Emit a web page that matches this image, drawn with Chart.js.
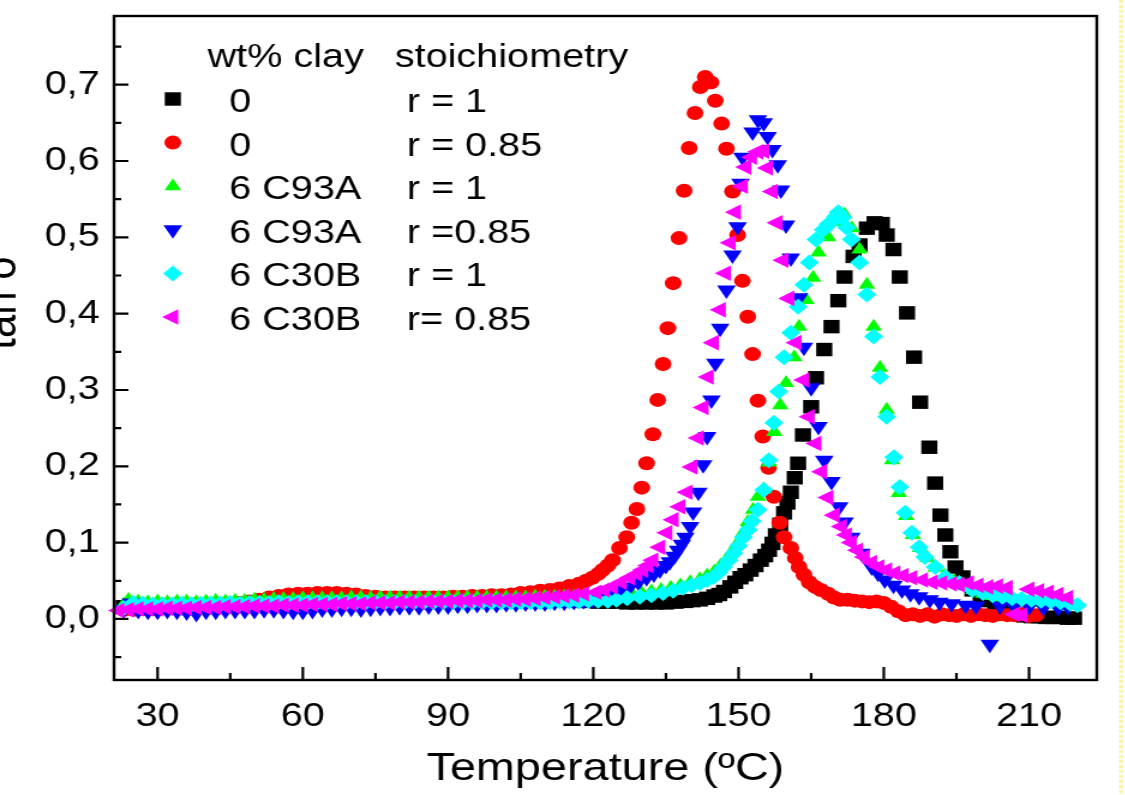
<!DOCTYPE html>
<html>
<head>
<meta charset="utf-8">
<title>tan delta vs temperature</title>
<script src="https://cdn.jsdelivr.net/npm/chart.js"></script>
<style>
  html, body { margin: 0; padding: 0; background: #fff; }
  #frame { position: relative; width: 1125px; height: 795px; overflow: hidden; background: #fff; }
  #wrap { position: absolute; left: 0; top: 0; width: 963px; height: 795px;
          transform-origin: 0 0; transform: translateX(-30px) scaleX(1.2); }
  #edge { position: absolute; left: 1119px; top: 0; width: 4px; height: 795px;
          background: repeating-linear-gradient(to bottom, #fbf3a6 0 3px, #fffdf0 3px 5px); }
</style>
</head>
<body>
<div id="frame">
  <div id="wrap"><canvas id="c" width="963" height="795"></canvas></div>
  <div id="edge"></div>
</div>
<script>
// x tick values and y tick values
const xTicks = [30, 60, 90, 120, 150, 180, 210];
const xMinor = [45, 75, 105, 135, 165, 195];
const yTicks = [0, 0.1, 0.2, 0.3, 0.4, 0.5, 0.6, 0.7];
const yMinor = [-0.05, 0.05, 0.15, 0.25, 0.35, 0.45, 0.55, 0.65, 0.75];

const clayLabels = ['0', '0', '6 C93A', '6 C93A', '6 C30B', '6 C30B'];
const stoichLabels = ['r = 1', 'r = 0.85', 'r = 1', 'r =0.85', 'r = 1', 'r= 0.85'];

// 0 wt%, r = 1
const blackT = [23,25,27,29,31,33,35,37,39,41,43,45,47,49,51,53,55,57,59,61,63,65,67,69,71,73,75,77,79,81,83,85,87,89,91,93,95,97,99,101,103,105,107,109,111,113,115,117,119,121,123,125,127,129,131,133,135,137,139,140.5,142,143.5,145,146,147,148.3,149.3,150.4,151.4,152.5,153.5,154.6,155.5,156.3,157,157.7,158.6,159.4,160.1,160.8,161.6,162.3,163.3,165,166,167.7,169.2,170.6,171.9,173.75,175,176.5,178.1,179.6,180.6,182,183.3,184.8,186.25,187.5,189.4,190.6,191.7,192.7,193.75,194.8,196.25,198.3,200,201.5,203,204.5,206,207.5,209,210.5,212,213.5,215,216.5,218,219.3];
const blackTan = [0.016,0.018,0.018,0.017,0.018,0.018,0.017,0.018,0.019,0.018,0.019,0.019,0.020,0.020,0.021,0.021,0.022,0.022,0.022,0.023,0.023,0.023,0.024,0.024,0.024,0.025,0.025,0.025,0.025,0.026,0.026,0.026,0.026,0.027,0.027,0.027,0.028,0.028,0.028,0.027,0.027,0.026,0.026,0.025,0.025,0.024,0.024,0.023,0.023,0.022,0.022,0.022,0.021,0.021,0.021,0.021,0.021,0.022,0.023,0.024,0.025,0.027,0.030,0.032,0.036,0.042,0.048,0.054,0.058,0.064,0.070,0.077,0.083,0.090,0.099,0.110,0.124,0.139,0.152,0.166,0.185,0.204,0.241,0.278,0.316,0.353,0.383,0.417,0.448,0.475,0.490,0.512,0.519,0.518,0.503,0.484,0.448,0.401,0.343,0.284,0.225,0.178,0.136,0.110,0.088,0.068,0.055,0.038,0.030,0.024,0.018,0.013,0.009,0.006,0.004,0.003,0.003,0.002,0.002,0.002,0.001,0.001];

// 0 wt%, r = 0.85
const redT = [23,25,27,29,31,33,35,37,39,41,43,45,47,49,51,53,55,57,59,61,63,65,67,69,71,73,75,77,79,81,83,85,87,89,91,93,95,97,99,101,103,105,107,109,111,113,115,117,118.5,119.8,121,121.9,123,124,125.4,126.9,127.9,129,130,131,132.3,133.3,134.4,135.4,136.5,137.7,138.75,139.8,141,142.1,143.1,144.3,145.2,146.5,147.5,148.75,149.8,150.8,151.9,152.9,154,155,156.2,157.3,158.5,159.4,160.8,161.7,162.5,163.5,164.6,165.8,167,168.5,169.7,171,172.5,174,175.5,177,178.5,180,181.5,183,184.5,186,187.5,189,190.5,192,193.5,195,196.5,198,199.5,201,202.5,204,205.5,207,208.5,210,211.5];
const redTan = [0.012,0.012,0.013,0.013,0.014,0.014,0.015,0.015,0.016,0.017,0.018,0.019,0.021,0.023,0.025,0.028,0.030,0.032,0.033,0.033,0.034,0.034,0.034,0.033,0.032,0.030,0.029,0.028,0.028,0.028,0.028,0.028,0.028,0.028,0.029,0.029,0.030,0.030,0.031,0.031,0.032,0.034,0.035,0.037,0.038,0.040,0.043,0.046,0.050,0.054,0.059,0.064,0.070,0.077,0.093,0.107,0.126,0.144,0.172,0.204,0.242,0.287,0.334,0.381,0.440,0.499,0.561,0.617,0.663,0.697,0.710,0.703,0.679,0.649,0.616,0.560,0.503,0.443,0.396,0.347,0.286,0.239,0.198,0.160,0.126,0.107,0.093,0.080,0.068,0.058,0.048,0.042,0.038,0.033,0.028,0.025,0.025,0.024,0.023,0.022,0.023,0.021,0.016,0.010,0.005,0.006,0.004,0.006,0.003,0.006,0.005,0.004,0.006,0.004,0.006,0.005,0.004,0.006,0.005,0.005,0.006,0.004,0.005];

// 6 wt% C93A, r = 1
const greenT = [23,24,26,28,30,32,34,36,38,40,42,44,46,48,50,52,54,56,58,60,62,64,66,68,70,72,74,76,78,80,82,84,86,88,90,92,94,96,98,100,102,104,106,108,110,112,114,116,118,120,122,124,126,128,130,132,134,136,138,140,142,143.5,145,146.3,147.5,148.6,149.7,150.8,151.9,153,154,155.2,156.3,157.4,158.6,159.8,161.5,162.5,164,165.4,166.5,168.5,170.2,171.9,173.4,175,176.5,177.9,179.2,180.6,181.7,183.1,184.6,186,187.5,189,190.7,192.5,194.5,196.5,198.5,200.5,202.5,204.5,206.5,208.5,210.5,212.5,214.5,216.5,218.5];
const greenTan = [0.019,0.025,0.023,0.022,0.023,0.022,0.023,0.023,0.022,0.023,0.024,0.023,0.024,0.024,0.025,0.025,0.026,0.026,0.026,0.027,0.027,0.027,0.027,0.027,0.028,0.028,0.027,0.028,0.028,0.028,0.028,0.028,0.028,0.028,0.028,0.028,0.028,0.028,0.028,0.028,0.028,0.028,0.028,0.029,0.029,0.029,0.029,0.029,0.030,0.030,0.030,0.031,0.032,0.033,0.034,0.036,0.038,0.041,0.044,0.048,0.052,0.057,0.062,0.070,0.078,0.088,0.099,0.112,0.127,0.143,0.160,0.170,0.205,0.245,0.280,0.309,0.343,0.383,0.418,0.447,0.480,0.500,0.520,0.530,0.512,0.484,0.438,0.383,0.329,0.274,0.208,0.165,0.135,0.110,0.093,0.080,0.067,0.057,0.050,0.044,0.038,0.033,0.030,0.028,0.026,0.025,0.023,0.021,0.020,0.018,0.017];

// 6 wt% C93A, r = 0.85
const blueT = [23,24.5,26,28,30,32,34,36,38,40,42,44,46,48,50,52,54,56,58,60,62,64,66,68,70,72,74,76,78,80,82,84,86,88,90,92,94,96,98,100,102,104,106,108,110,112,114,116,118,119.8,121.5,123.3,125.5,127.5,129.3,131,132.5,133.75,135,135.8,136.7,137.5,138.3,139,140,140.6,141.7,142.7,143.5,144.4,145.2,146.2,147.5,148.75,149.8,150.4,150.8,152.9,154,155.2,156,157,158.1,158.75,159.8,160.8,162.5,163.5,165,166.5,167.7,169.2,170.8,171.9,173.3,175.4,177.5,178.8,180.2,182,183.75,185.5,187.3,189.5,191.5,194,196.9,199,201.9,204,207,210,213,216,218];
const blueTan = [0.012,0.021,0.011,0.010,0.010,0.011,0.010,0.009,0.007,0.010,0.010,0.011,0.011,0.011,0.011,0.012,0.012,0.011,0.010,0.010,0.011,0.013,0.013,0.014,0.014,0.013,0.014,0.015,0.015,0.016,0.016,0.016,0.017,0.017,0.017,0.018,0.018,0.019,0.019,0.019,0.020,0.020,0.021,0.021,0.021,0.022,0.022,0.023,0.024,0.025,0.029,0.034,0.038,0.042,0.048,0.054,0.059,0.064,0.070,0.075,0.082,0.090,0.098,0.107,0.121,0.140,0.166,0.202,0.239,0.287,0.335,0.381,0.431,0.477,0.514,0.571,0.605,0.638,0.654,0.650,0.632,0.615,0.595,0.562,0.516,0.473,0.421,0.356,0.303,0.252,0.208,0.180,0.147,0.127,0.107,0.086,0.068,0.060,0.051,0.044,0.038,0.033,0.029,0.025,0.022,0.020,0.018,0.017,-0.033,0.017,0.016,0.016,0.015,0.015,0.016];

// 6 wt% C30B, r = 1
const cyanT = [23,25,27,29,31,33,35,37,39,41,43,45,47,49,51,53,55,57,59,61,63,65,67,69,71,73,75,77,79,81,83,85,87,89,91,93,95,97,99,101,103,105,107,109,111,113,115,117,119,121,123,124.8,127,129.6,132,134.4,136.5,138.5,140.3,142,143.5,144.8,145.9,146.9,148,149,150,151,152,152.8,154,155.2,156.25,157.3,158.3,159.4,160.8,162.3,163.5,164.6,166,167.5,168.5,169.3,170,170.6,171.5,172.3,173.3,175,176.5,177.9,179.2,180.6,182.1,183.3,184.4,185.8,187.3,188.5,190.6,192.7,195.6,198.3,200.5,202.5,204.5,206.5,208.5,210.5,212.5,214.5,216.5,218.5,220];
const cyanTan = [0.014,0.021,0.020,0.019,0.019,0.019,0.020,0.019,0.020,0.020,0.020,0.021,0.020,0.021,0.021,0.021,0.022,0.021,0.022,0.022,0.022,0.022,0.022,0.022,0.022,0.022,0.022,0.022,0.022,0.022,0.022,0.022,0.022,0.022,0.022,0.022,0.022,0.022,0.022,0.022,0.022,0.022,0.022,0.022,0.022,0.023,0.023,0.023,0.024,0.024,0.024,0.025,0.027,0.029,0.031,0.034,0.037,0.041,0.044,0.047,0.051,0.055,0.061,0.068,0.077,0.086,0.096,0.107,0.117,0.128,0.143,0.169,0.208,0.257,0.298,0.343,0.375,0.409,0.438,0.467,0.497,0.510,0.517,0.520,0.527,0.533,0.526,0.513,0.497,0.467,0.425,0.370,0.317,0.265,0.212,0.173,0.139,0.113,0.094,0.081,0.068,0.055,0.047,0.038,0.034,0.031,0.029,0.027,0.026,0.025,0.024,0.023,0.022,0.020,0.018];

// 6 wt% C30B, r = 0.85
const magentaT = [22,24,26,28,30,32,34,36,38,40,42,44,46,48,50,52,54,56,58,60,62,64,66,68,70,72,74,76,78,80,82,84,86,88,90,92,94,96,98,100,102,104,106,108,110,112,114,116,118,120.6,122.3,124,125.8,127.5,129,130.2,131.3,132.3,133.75,135.2,136.5,137.9,139.4,140.4,141.7,142.7,143.75,144.8,146.25,147.3,148.3,149.4,150.8,151.5,152.7,154,155.2,156,157,158,159.2,160.4,161.9,163.5,164.6,166,167.2,168.5,169.8,171.25,172.3,173.3,174.6,176,177.5,179,180.6,182.3,184,185.8,188,190,192,194,195.6,197.5,199.5,201.5,203.5,205.5,207,208.5,210,212,214,216,218];
const magentaTan = [0.011,0.012,0.013,0.013,0.013,0.014,0.014,0.014,0.015,0.015,0.015,0.016,0.016,0.016,0.017,0.017,0.017,0.018,0.018,0.018,0.019,0.019,0.019,0.020,0.020,0.020,0.021,0.021,0.021,0.022,0.022,0.022,0.023,0.023,0.023,0.024,0.024,0.024,0.025,0.025,0.025,0.026,0.026,0.027,0.028,0.029,0.030,0.031,0.033,0.035,0.038,0.042,0.048,0.054,0.059,0.064,0.070,0.077,0.094,0.113,0.130,0.147,0.166,0.199,0.237,0.277,0.317,0.362,0.405,0.453,0.493,0.533,0.567,0.592,0.605,0.612,0.613,0.591,0.560,0.519,0.470,0.420,0.362,0.313,0.265,0.230,0.193,0.159,0.136,0.121,0.110,0.100,0.090,0.081,0.074,0.068,0.064,0.060,0.057,0.054,0.051,0.048,0.047,0.046,0.045,0.047,0.044,0.042,0.043,0.041,0.006,0.005,0.039,0.037,0.035,0.032,0.028];

const FONT = '"Liberation Sans", Arial, sans-serif';

function pts(xs, ys) {
  return xs.map((t, i) => ({ x: t, y: ys[i] }));
}

const series = [
  { data: pts(blackT, blackTan),     color: '#000000', style: 'rect',     rot: 0,   r: 9.5, order: 5 },
  { data: pts(redT, redTan),         color: '#ff0000', style: 'circle',   rot: 0,   r: 7,   order: 4 },
  { data: pts(greenT, greenTan),     color: '#00ff00', style: 'triangle', rot: 0,   r: 8,   order: 3 },
  { data: pts(blueT, blueTan),       color: '#0000ff', style: 'triangle', rot: 180, r: 9,   order: 2 },
  { data: pts(cyanT, cyanTan),       color: '#00ffff', style: 'rectRot',  rot: 0,   r: 8,   order: 1 },
  { data: pts(magentaT, magentaTan), color: '#ff00ff', style: 'triangle', rot: 270, r: 9,   order: 0 }
];

// frame, inward ticks, y title and the two-column legend
const decor = {
  id: 'decor',
  afterDraw(chart) {
    const { ctx, chartArea: a, scales: { x, y } } = chart;
    ctx.save();
    ctx.strokeStyle = '#000';
    ctx.lineWidth = 2.2;
    ctx.beginPath();
    xTicks.forEach(v => { const p = x.getPixelForValue(v); ctx.moveTo(p, a.bottom); ctx.lineTo(p, a.bottom - 13); });
    xMinor.forEach(v => { const p = x.getPixelForValue(v); ctx.moveTo(p, a.bottom); ctx.lineTo(p, a.bottom - 7); });
    yTicks.forEach(v => { const p = y.getPixelForValue(v); ctx.moveTo(a.left, p); ctx.lineTo(a.left + 12, p); });
    yMinor.forEach(v => { const p = y.getPixelForValue(v); ctx.moveTo(a.left, p); ctx.lineTo(a.left + 6, p); });
    ctx.stroke();
    ctx.lineWidth = 2.4;
    ctx.strokeRect(a.left, a.top, a.right - a.left, a.bottom - a.top);

    // y axis title (partly cut by the left edge, as in the source)
    ctx.save();
    ctx.translate(38, 303);
    ctx.rotate(-Math.PI / 2);
    ctx.fillStyle = '#000';
    ctx.font = '42px ' + FONT;
    ctx.textAlign = 'center';
    ctx.textBaseline = 'alphabetic';
    ctx.fillText('tan \u03b4', 0, 0);
    ctx.restore();

    // legend
    ctx.fillStyle = '#000';
    ctx.font = '33px ' + FONT;
    ctx.textAlign = 'left';
    ctx.textBaseline = 'alphabetic';
    ctx.fillText('wt% clay', 198, 67);
    ctx.fillText('stoichiometry', 354, 67);
    series.forEach((s, i) => {
      const by = 112 + i * 43.6;
      ctx.fillStyle = s.color;
      Chart.helpers.drawPoint(ctx, { pointStyle: s.style, rotation: s.rot, radius: s.r, borderWidth: 0 }, 169, by - 13);
      ctx.fillStyle = '#000';
      ctx.fillText(clayLabels[i], 216, by);
      ctx.fillText(stoichLabels[i], 364, by);
    });
    ctx.restore();
  }
};

new Chart(document.getElementById('c'), {
  type: 'scatter',
  data: {
    datasets: series.map((s, i) => ({
      label: clayLabels[i] + ' ' + stoichLabels[i],
      data: s.data,
      pointStyle: s.style,
      pointRotation: s.rot,
      pointRadius: s.r,
      pointHoverRadius: s.r,
      backgroundColor: s.color,
      borderColor: s.color,
      pointBorderWidth: 0,
      order: s.order,
      clip: false
    }))
  },
  options: {
    responsive: false,
    animation: false,
    devicePixelRatio: 1,
    layout: { padding: { left: 0, top: 16, right: 24, bottom: 0 } },
    plugins: { legend: { display: false }, tooltip: { enabled: false } },
    scales: {
      x: {
        type: 'linear',
        min: 21,
        max: 224,
        grid: { display: false, drawTicks: false },
        border: { display: false },
        afterBuildTicks: s => { s.ticks = xTicks.map(v => ({ value: v })); },
        afterFit: s => { s.height = 115; s.paddingLeft = 0; s.paddingRight = 0; },
        ticks: { color: '#000', padding: 17, font: { family: FONT, size: 33 }, maxRotation: 0 },
        title: { display: true, text: 'Temperature (\u00baC)', color: '#000', padding: { top: 0, bottom: 2 },
                 font: { family: FONT, size: 39 } }
      },
      y: {
        min: -0.08,
        max: 0.79,
        grid: { display: false, drawTicks: false },
        border: { display: false },
        afterBuildTicks: s => { s.ticks = yTicks.map(v => ({ value: v })); },
        afterFit: s => { s.width = 120; s.paddingTop = 0; s.paddingBottom = 0; },
        ticks: { color: '#000', padding: 12, font: { family: FONT, size: 33 },
                 callback: v => v.toFixed(1).replace('.', ',') }
      }
    }
  },
  plugins: [decor]
});
</script>
</body>
</html>
